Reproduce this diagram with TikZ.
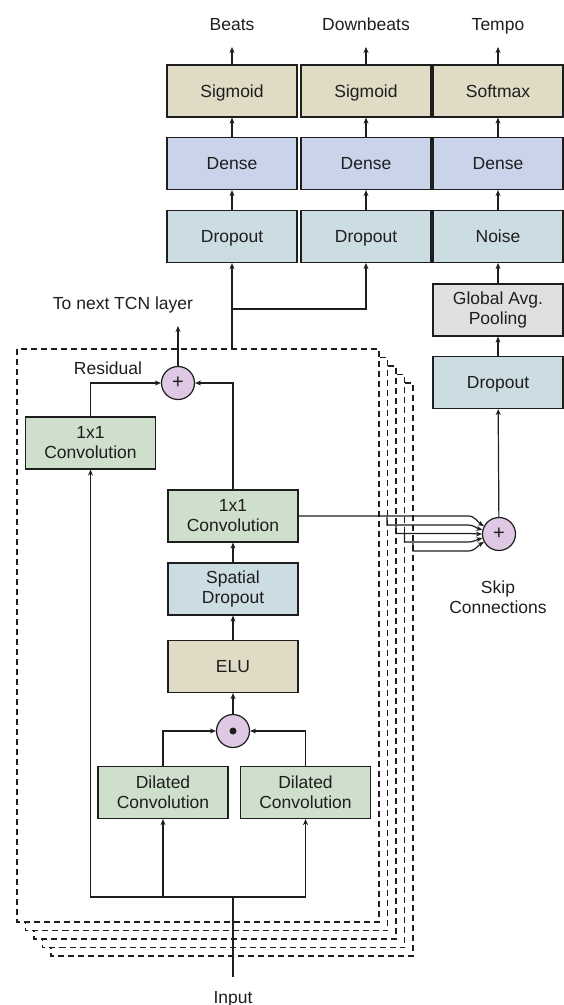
\documentclass[tikz,border=0pt]{standalone}
\usepackage{fontspec}
\setmainfont{Liberation Sans}
\usetikzlibrary{arrows.meta}
\definecolor{ctan}{HTML}{E0DBC4}
\definecolor{cdense}{HTML}{C9D4EA}
\definecolor{cdrop}{HTML}{CCDCE3}
\definecolor{cconv}{HTML}{CEDFCB}
\definecolor{cgrey}{HTML}{E0E0E0}
\definecolor{cpurp}{HTML}{DEC8E3}
\definecolor{cline}{HTML}{1E1E1E}
\tikzset{
  every node/.style={font=\fontsize{17.5}{20}\selectfont, text=cline},
  blk/.style={draw=cline, line width=1.2pt, minimum width=130pt, minimum height=52pt, inner sep=0pt, align=center},
  one/.style={text height=12.5pt, text depth=0pt},
  tanbox/.style={blk, fill=ctan},
  densebox/.style={blk, fill=cdense},
  dropbox/.style={blk, fill=cdrop},
  convbox/.style={blk, fill=cconv},
  greybox/.style={blk, fill=cgrey},
  opc/.style={circle, draw=cline, line width=1.2pt, fill=cpurp, minimum size=33pt, inner sep=0pt, font=\fontsize{20}{20}\selectfont},
  conn/.style={draw=cline, line width=1.2pt},
  arr/.style={conn, -{Stealth[length=6pt,width=5pt]}},
  layer/.style={draw=cline, line width=1.1pt, dash pattern=on 6pt off 4pt, fill=white},
  lbl/.style={align=center, inner sep=0pt}
}
\begin{document}
\begin{tikzpicture}[x=1pt,y=1pt]
\useasboundingbox (0,0) rectangle (564,-1005);
% stacked TCN layers (dashed)
\foreach \k in {4,3,2,1,0}{
  \path[layer] ({17+8.5*\k},{-349-8.5*\k}) rectangle ({379+8.5*\k},{-922-8.5*\k});
}
% output heads
\node[tanbox,one] (s1) at (232,-91) {Sigmoid};
\node[tanbox,one] (s2) at (366,-91) {Sigmoid};
\node[tanbox,one] (s3) at (498,-91) {Softmax};
\node[densebox,one] (e1) at (232,-163.5) {Dense};
\node[densebox,one] (e2) at (366,-163.5) {Dense};
\node[densebox,one] (e3) at (498,-163.5) {Dense};
\node[dropbox,one] (d1) at (232,-236.5) {Dropout};
\node[dropbox,one] (d2) at (366,-236.5) {Dropout};
\node[dropbox,one] (n3) at (498,-236.5) {Noise};
\node[greybox] (gap) at (498,-310) {Global Avg.\\Pooling};
\node[dropbox,one] (dt) at (498,-382.5) {Dropout};
\node[lbl,one] (lb) at (232,-24) {Beats};
\node[lbl,one] (ld) at (366,-24) {Downbeats};
\node[lbl,one] (lt) at (498,-24) {Tempo};
\coordinate (ab1) at (232,-47);
\coordinate (ab2) at (366,-47);
\coordinate (ab3) at (498,-47);
% TCN block
\node[convbox] (lconv) at (90.5,-443) {1x1\\Convolution};
\node[opc] (plus) at (178,-383) {+};
\node[convbox] (conv) at (233,-516) {1x1\\Convolution};
\node[dropbox] (sp) at (233,-589) {Spatial\\Dropout};
\node[tanbox,one] (elu) at (233,-666.5) {ELU};
\node[opc] (odot) at (233,-731) {};
\fill[cline] (odot.center) circle (3.5pt);
\node[convbox] (dil1) at (163,-792.5) {Dilated\\Convolution};
\node[convbox] (dil2) at (305.5,-792.5) {Dilated\\Convolution};
\node[opc] (sk) at (499,-534) {+};
\node[lbl,one] (lres) at (108,-368) {Residual};
\node[lbl,one] (lnext) at (123,-303) {To next TCN layer};
\node[lbl] (lskip) at (498,-597) {Skip\\Connections};
\node[lbl,one] (lin) at (233,-997) {Input};
\coordinate (inp) at (233,-977);
\coordinate (junc) at (233,-897);
\coordinate (nxt) at (178,-326);
\coordinate (tcn) at (232,-349);
\coordinate (br) at (232,-309);
% head connectors
\draw[arr] (s1) -- (ab1);
\draw[arr] (s2) -- (ab2);
\draw[arr] (s3) -- (ab3);
\draw[arr] (e1) -- (s1);
\draw[arr] (e2) -- (s2);
\draw[arr] (e3) -- (s3);
\draw[arr] (d1) -- (e1);
\draw[arr] (d2) -- (e2);
\draw[arr] (n3) -- (e3);
\draw[arr] (gap) -- (n3);
\draw[arr] (dt) -- (gap);
\draw[arr] (sk) -- (dt);
\draw[arr] (tcn) -- (d1.south);
\draw[arr] (br) -| (d2.south);
% block connectors
\draw[conn] (inp) -- (junc);
\draw[arr] (junc) -| (lconv.south);
\draw[arr] (junc) -| (dil1.south);
\draw[arr] (junc) -| (dil2.south);
\draw[arr] (dil1.north) |- (odot.west);
\draw[arr] (dil2.north) |- (odot.east);
\draw[arr] (odot) -- (elu);
\draw[arr] (elu) -- (sp);
\draw[arr] (sp) -- (conv);
\draw[arr] (conv.north) |- (plus.east);
\draw[arr] (lconv.north) |- (plus.west);
\draw[arr] (plus) -- (nxt);
% skip connections
\draw[arr] (conv.east) -- (468,-516) to[out=0,in=150] (sk.152);
\draw[arr] (387,-517) -- (387,-525) -- (468,-525) to[out=0,in=165] (sk.166);
\draw[arr] (396,-525) -- (396,-533.5) -- (468,-533.5) to[out=0,in=180] (sk.180);
\draw[arr] (404.5,-534) -- (404.5,-542) -- (468,-542) to[out=0,in=195] (sk.194);
\draw[arr] (413,-542.5) -- (413,-551) -- (468,-551) to[out=0,in=210] (sk.208);
\end{tikzpicture}
\end{document}
